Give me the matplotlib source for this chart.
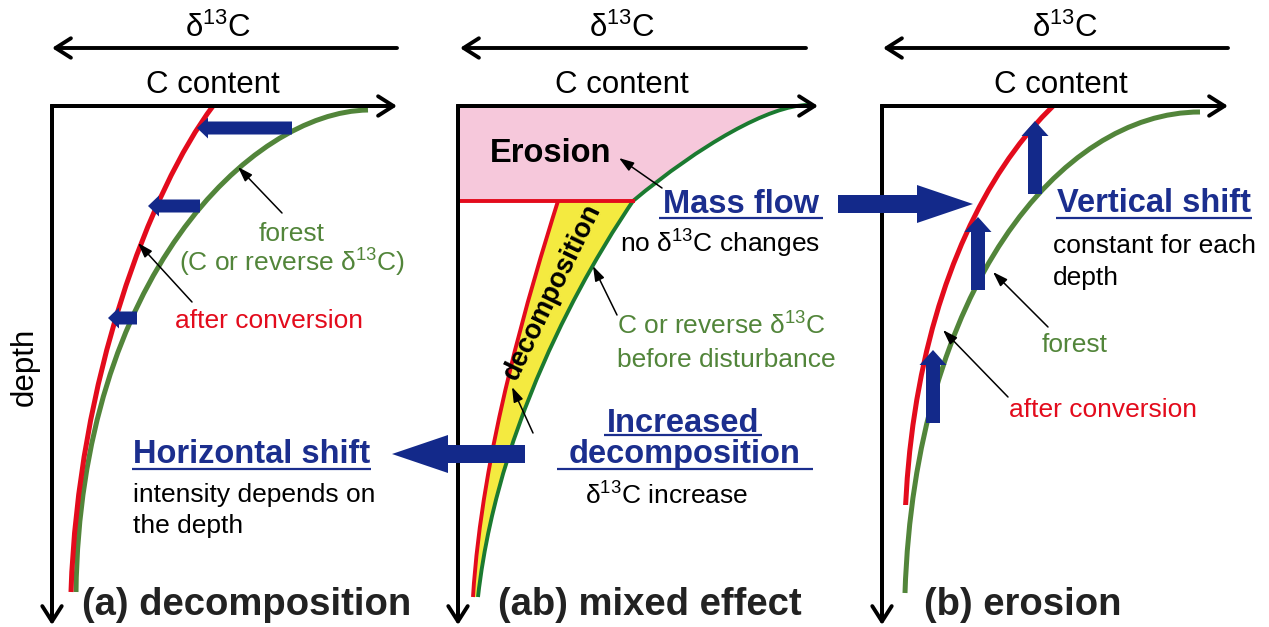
import matplotlib
matplotlib.use("Agg")
import matplotlib.pyplot as plt
from matplotlib.path import Path
from matplotlib.patches import PathPatch, FancyArrow, Rectangle

plt.rcParams['font.family'] = ['Liberation Sans', 'DejaVu Sans']
plt.rcParams['mathtext.fontset'] = 'custom'
plt.rcParams['mathtext.rm'] = 'Liberation Sans'
plt.rcParams['mathtext.it'] = 'Liberation Sans:italic'
plt.rcParams['mathtext.bf'] = 'Liberation Sans:bold'
plt.rcParams['mathtext.default'] = 'regular'

RED = '#E30B1C'
GREEN = '#52853A'
GREEN_AB = '#1B7A30'
NAVY = '#13298A'
BLUE_TXT = '#1B2E8E'
PINK = '#F6C8DB'
YELLOW = '#F4EA40'
DARK = '#222222'

# profiles as cubic bezier control points (picture pixels, depth going down)
green_a = [(368, 110), (250, 112), (80, 280), (76, 592)]
red_a = [(213, 106), (150, 190), (78, 380), (71, 592)]
green_ab_top = [(808, 105), (770, 105), (700, 145), (633, 201)]
green_ab_low = [(633, 201), (610, 235), (500, 400), (478, 597)]
red_ab = [(558, 201), (530, 290), (482, 450), (473, 597)]
green_b = [(1200, 112), (1060, 112), (915, 290), (905, 593)]
shift_b = 73           # constant vertical shift in (b)
red_b_bottom = 505

# horizontal shift arrows in (a)
shift_a_y = [128, 206, 318]
shift_a_from = [292, 200, 137]
shift_a_to = [197, 148, 108]
# vertical shift arrows in (b)
shift_b_x = [1035, 978, 933]
shift_b_from = [194, 290, 423]

# panel frames
corner_x = [52, 458, 882]
corner_y = 106
axis_right = [397, 818, 1228]
axis_bottom = 625
d13c_right = [397, 806, 1228]
d13c_left = [52, 460, 883]
d13c_center = [218, 622, 1065]
ccontent_center = [213, 622, 1061]
titles = ["(a) decomposition", "(ab) mixed effect", "(b) erosion"]
title_x = [82, 498, 924]

fig = plt.figure(figsize=(12.69, 6.27), dpi=100)
ax = fig.add_axes([0, 0, 1, 1])
ax.set_xlim(0, 1269)
ax.set_ylim(627, 0)
ax.axis('off')

CUBIC = [Path.MOVETO, Path.CURVE4, Path.CURVE4, Path.CURVE4]


def curve(pts, color, lw, dy=0):
    pts = [(x, y + dy) for x, y in pts]
    p = PathPatch(Path(pts, CUBIC), fill=False, edgecolor=color, lw=lw, capstyle='butt', zorder=3)
    ax.add_patch(p)
    return p


def block_arrow(x0, y0, x1, y1, width, hw, hl):
    ax.add_patch(FancyArrow(x0, y0, x1 - x0, y1 - y0, width=width, head_width=hw, head_length=hl,
                            length_includes_head=True, color=NAVY, lw=0, zorder=5))


def pointer(xt, yt, xh, yh):
    ax.annotate('', xy=(xh, yh), xytext=(xt, yt),
                arrowprops=dict(arrowstyle='-|>,head_length=0.9,head_width=0.3', color='black',
                                lw=1.1, shrinkA=0, shrinkB=0), zorder=6)


def label(x, y, s, size, color='black', weight='normal', ha='left'):
    return ax.text(x, y, s, fontsize=size, color=color, fontweight=weight, ha=ha, va='baseline', zorder=7)


# fills of panel (ab)
pink = Path([(458, corner_y)] + green_ab_top + [(458, green_ab_top[-1][1]), (458, corner_y)],
            [Path.MOVETO, Path.LINETO, Path.CURVE4, Path.CURVE4, Path.CURVE4, Path.LINETO, Path.CLOSEPOLY])
ax.add_patch(PathPatch(pink, facecolor=PINK, edgecolor='none', zorder=1))
yellow = Path(red_ab + green_ab_low[::-1] + [red_ab[0]],
              [Path.MOVETO, Path.CURVE4, Path.CURVE4, Path.CURVE4,
               Path.LINETO, Path.CURVE4, Path.CURVE4, Path.CURVE4, Path.CLOSEPOLY])
ax.add_patch(PathPatch(yellow, facecolor=YELLOW, edgecolor='none', zorder=1))

# profiles
curve(green_a, GREEN, 3.6)
curve(red_a, RED, 3.6)
curve(green_ab_top, GREEN_AB, 2.8)
curve(green_ab_low, GREEN_AB, 2.8)
curve(red_ab, RED, 2.8)
ax.plot([458, green_ab_top[-1][0]], [green_ab_top[-1][1]] * 2, color=RED, lw=2.8, zorder=3)
curve(green_b, GREEN, 3.6)
rb = curve(green_b, RED, 3.6, dy=-shift_b)
rb.set_clip_path(Rectangle((850, corner_y), 400, red_b_bottom - corner_y, transform=ax.transData))

# frames
for i in range(3):
    ax.plot([corner_x[i], corner_x[i], axis_right[i] - 8], [axis_bottom - 8, corner_y, corner_y],
            color='black', lw=2.8, solid_joinstyle='miter', zorder=4)
    for end in [(axis_right[i], corner_y), (corner_x[i], axis_bottom)]:
        ax.annotate('', xy=end, xytext=(corner_x[i], corner_y),
                    arrowprops=dict(arrowstyle='->,head_length=0.55,head_width=0.35', lw=2.8,
                                    color='black', mutation_scale=20, shrinkA=0, shrinkB=0), zorder=4)
    ax.annotate('', xy=(d13c_left[i], 48), xytext=(d13c_right[i], 48),
                arrowprops=dict(arrowstyle='->,head_length=0.55,head_width=0.35', lw=2.8,
                                color='black', mutation_scale=20, shrinkA=0, shrinkB=0), zorder=4)
    label(d13c_center[i], 37, r'δ$^{13}$C', 22.5, ha='center')
    label(ccontent_center[i], 93, 'C content', 22.5, ha='center')
    label(title_x[i], 615, titles[i], 27.5, color=DARK, weight='bold')

# shift arrows
for y, x0, x1 in zip(shift_a_y, shift_a_from, shift_a_to):
    block_arrow(x0, y, x1, y, 13, 21, 11)
for x, y0 in zip(shift_b_x, shift_b_from):
    block_arrow(x, y0, x, y0 - shift_b, 14, 27, 15)
block_arrow(525, 454, 392, 454, 18, 38, 56)
block_arrow(838, 204, 973, 204, 18, 38, 56)

# panel (a) text
label(292, 241, 'forest', 19, color=GREEN, ha='center')
label(292, 272, r'(C or reverse δ$^{13}$C)', 19, color=GREEN, ha='center')
label(269, 328, 'after conversion', 19, color=RED, ha='center')
pointer(282, 213, 238, 167)
pointer(192, 302, 138, 243)
ax.text(25, 367, 'depth', fontsize=22.5, rotation=90, ha='center', va='center')
h_shift = label(133, 463, 'Horizontal shift', 23.5, color=BLUE_TXT, weight='bold')
label(133, 502, 'intensity depends on', 19)
label(133, 533, 'the depth', 19)

# panel (ab) text
label(490, 162, 'Erosion', 23.5, color='black', weight='bold')
pointer(662, 188, 619, 158)
m_flow = label(663, 213, 'Mass flow', 23.5, color=BLUE_TXT, weight='bold')
label(620, 253, r'no δ$^{13}$C changes', 19)
label(617, 335, r'C or reverse δ$^{13}$C', 19, color=GREEN)
label(617, 367, 'before disturbance', 19, color=GREEN)
pointer(617, 315, 593, 266)
ax.text(552, 292, 'decomposition', fontsize=19.5, fontweight='bold', rotation=64,
        rotation_mode='anchor', ha='center', va='center', zorder=7)
pointer(533, 433, 512, 387)
incr = label(683, 432, 'Increased', 23.5, color=BLUE_TXT, weight='bold', ha='center')
decomp = label(685, 463, 'decomposition', 23.5, color=BLUE_TXT, weight='bold', ha='center')
label(585, 505, r'δ$^{13}$C increase', 19)

# panel (b) text
v_shift = label(1057, 212, 'Vertical shift', 23.5, color=BLUE_TXT, weight='bold')
label(1053, 253, 'constant for each', 19)
label(1053, 285, 'depth', 19)
label(1042, 352, 'forest', 19, color=GREEN)
pointer(1048, 327, 993, 272)
label(1009, 417, 'after conversion', 19, color=RED)
pointer(1008, 397, 943, 330)

# underlines of the blue headings
renderer = fig.canvas.get_renderer()
for t, y, pad in [(h_shift, 469, 1), (m_flow, 218, 4), (incr, 435, 3), (decomp, 469, 12), (v_shift, 218, 1)]:
    bb = t.get_window_extent(renderer).transformed(ax.transData.inverted())
    ax.plot([bb.x0 - pad, bb.x1 + pad], [y, y], color=BLUE_TXT, lw=1.6, solid_capstyle='butt', zorder=7)

fig.savefig('out.png', dpi=100)
